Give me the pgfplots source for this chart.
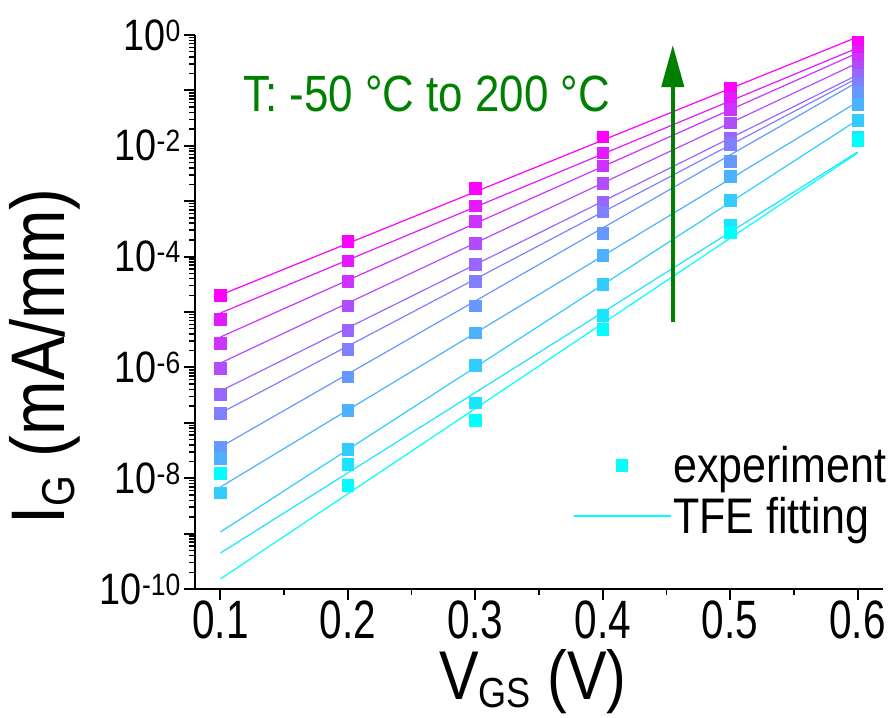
\documentclass[border=0pt]{standalone}
\usepackage{pgfplots}
\pgfplotsset{compat=1.18}
\usetikzlibrary{arrows.meta}
\usepackage{fontspec}
\setmainfont{Liberation Sans}[FakeStretch=0.86]
\newfontfamily\narrowfont{Liberation Sans}[FakeStretch=0.75]
\definecolor{arrowgreen}{RGB}{0,128,0}
\definecolor{cy}{RGB}{0,255,255}
\definecolor{mg}{RGB}{255,0,255}
% temperature colours: -50 C (cyan) ... 200 C (magenta)
\colorlet{Ta}{mg!0!cy}
\colorlet{Tb}{mg!10!cy}
\colorlet{Tc}{mg!20!cy}
\colorlet{Td}{mg!30!cy}
\colorlet{Te}{mg!40!cy}
\colorlet{Tf}{mg!50!cy}
\colorlet{Tg}{mg!60!cy}
\colorlet{Th}{mg!70!cy}
\colorlet{Ti}{mg!80!cy}
\colorlet{Tj}{mg!90!cy}
\colorlet{Tk}{mg!100!cy}
\pgfplotsset{
  exp/.style={only marks, mark=square*, mark size=5.8pt, color=#1, forget plot},
  fit/.style={no marks, line width=1.2pt, color=#1, forget plot},
  legmark/.style={legend image code/.code={\draw[##1] plot coordinates {(48pt,0pt)};}},
  legline/.style={legend image code/.code={\draw[##1] (0pt,0pt) -- (97pt,0pt);}},
}
\begin{document}
\begin{tikzpicture}
\begin{axis}[
  name=main,
  scale only axis, width=688pt, height=554pt,
  ymode=log,
  xmin=0.08, xmax=0.62, ymin=1e-10, ymax=1,
  axis x line*=bottom, axis y line*=left,
  axis line style={-, line width=2pt},
  tick align=outside,
  major tick length=11pt, minor tick length=6pt,
  major tick style={line width=2pt, black},
  minor tick style={line width=1.5pt, black},
  xtick={0.1,0.2,0.3,0.4,0.5,0.6},
  xticklabels={0.1,0.2,0.3,0.4,0.5,0.6},
  minor xtick={0.15,0.25,0.35,0.45,0.55},
  ytick={1e-10,1e-9,1e-8,1e-7,1e-6,1e-5,1e-4,1e-3,1e-2,1e-1,1},
  yticklabels={10\textsuperscript{-10},,10\textsuperscript{-8},,10\textsuperscript{-6},,10\textsuperscript{-4},,10\textsuperscript{-2},,10\textsuperscript{0}},
  xticklabel style={font=\narrowfont\fontsize{54pt}{62pt}\selectfont, inner sep=1pt},
  yticklabel style={font=\fontsize{44pt}{52pt}\selectfont, inner sep=3pt},
  every axis x label/.style={at={(axis description cs:0.491,-0.167)}, anchor=center, inner sep=0pt},
  every axis y label/.style={at={(axis description cs:-0.218,0.42)}, anchor=center, rotate=90},
  xlabel={\fontsize{69pt}{80pt}\selectfont V\raisebox{-8pt}{\fontsize{42pt}{48pt}\selectfont GS} (V)},
  ylabel={\fontsize{76pt}{88pt}\selectfont I\raisebox{-10pt}{\fontsize{46pt}{52pt}\selectfont G} (mA/mm)},
  legend style={draw=none, fill=none, at={(rel axis cs:1.012,0.265)}, anchor=north east,
    font=\fontsize{50pt}{58pt}\selectfont, row sep=9pt, column sep=0pt},
  legend cell align=left,
  clip=false,
]
\addlegendimage{legmark, only marks, mark=square*, mark size=5.8pt, color=cy}
\addlegendentry{experiment}
\addlegendimage{legline, line width=1.2pt, color=cy}
\addlegendentry{TFE fitting}

% TFE fitting lines
\addplot[fit=Tk] coordinates {(0.1,2.03e-5) (0.6,0.92)};
\addplot[fit=Tj] coordinates {(0.1,9.6e-6) (0.6,0.582)};
\addplot[fit=Ti] coordinates {(0.1,3.54e-6) (0.6,0.473)};
\addplot[fit=Th] coordinates {(0.1,1.20e-6) (0.6,0.312)};
\addplot[fit=Tg] coordinates {(0.1,3.75e-7) (0.6,0.190)};
\addplot[fit=Tf] coordinates {(0.1,1.50e-7) (0.6,0.167)};
\addplot[fit=Te] coordinates {(0.1,3.66e-8) (0.6,0.142)};
\addplot[fit=Td] coordinates {(0.1,6.94e-9) (0.6,6.18e-2)};
\addplot[fit=Tc] coordinates {(0.1,1.07e-9) (0.6,2.92e-2)};
\addplot[fit=Tb] coordinates {(0.1,4.46e-10) (0.6,7.73e-3)};
\addplot[fit=Ta] coordinates {(0.1,1.52e-10) (0.6,7.41e-3)};

% measured gate current, 200 C down to -50 C
\addplot[exp=Tk] coordinates {(0.1,2.03e-5) (0.2,1.91e-4) (0.3,1.71e-3) (0.4,1.46e-2) (0.5,0.110) (0.6,0.748)};
\addplot[exp=Tj] coordinates {(0.1,7.48e-6) (0.2,8.43e-5) (0.3,8.30e-4) (0.4,7.50e-3) (0.5,7.29e-2) (0.6,0.514)};
\addplot[exp=Ti] coordinates {(0.1,2.76e-6) (0.2,3.63e-5) (0.3,4.34e-4) (0.4,4.37e-3) (0.5,4.62e-2) (0.6,0.369)};
\addplot[exp=Th] coordinates {(0.1,9.75e-7) (0.2,1.31e-5) (0.3,1.74e-4) (0.4,2.10e-3) (0.5,2.63e-2) (0.6,0.264)};
\addplot[exp=Tg] coordinates {(0.1,3.31e-7) (0.2,4.73e-6) (0.3,7.26e-5) (0.4,9.80e-4) (0.5,1.38e-2) (0.6,0.190)};
\addplot[exp=Tf] coordinates {(0.1,1.50e-7) (0.2,2.15e-6) (0.3,3.63e-5) (0.4,6.47e-4) (0.5,1.08e-2) (0.6,0.136)};
\addplot[exp=Te] coordinates {(0.1,3.66e-8) (0.2,6.79e-7) (0.3,1.31e-5) (0.4,2.63e-4) (0.5,5.32e-3) (0.6,9.35e-2)};
\addplot[exp=Td] coordinates {(0.1,2.32e-8) (0.2,1.70e-7) (0.3,4.23e-6) (0.4,1.07e-4) (0.5,2.85e-3) (0.6,5.68e-2)};
\addplot[exp=Tc] coordinates {(0.1,5.47e-9) (0.2,3.37e-8) (0.3,1.10e-6) (0.4,3.20e-5) (0.5,1.05e-3) (0.6,2.92e-2)};
\addplot[exp=Tb] coordinates {(0.1,1.20e-8) (0.2,1.78e-8) (0.3,2.31e-7) (0.4,8.65e-6) (0.5,3.72e-4) (0.6,1.44e-2)};
\addplot[exp=Ta] coordinates {(0.1,1.24e-8) (0.2,7.53e-9) (0.3,1.12e-7) (0.4,4.88e-6) (0.5,2.78e-4) (0.6,1.27e-2)};

% temperature direction
\draw[arrowgreen, line width=4pt, -{Triangle[length=42pt,width=22pt]}]
  (axis cs:0.455,6.7e-6) -- (axis cs:0.455,0.66);
\node[anchor=base west, text=arrowgreen, inner sep=0pt,
  font=\fontsize{51pt}{60pt}\selectfont] at (rel axis cs:0.0698,0.8616) {T: -50 °C to 200 °C};
\end{axis}
\pgfresetboundingbox
\path[use as bounding box] (main.south west) ++(-195pt,-128pt) rectangle ++(893pt,717pt);
\end{tikzpicture}
\end{document}
